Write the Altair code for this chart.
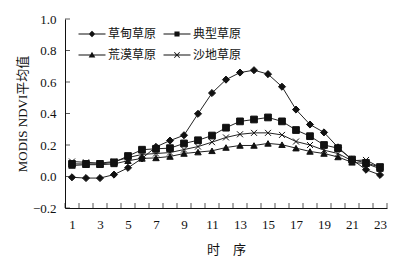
import altair as alt
import pandas as pd

periods = list(range(1, 24))
series = ["草甸草原", "典型草原", "荒漠草原", "沙地草原"]
meadow = [-0.005, -0.01, -0.01, 0.012, 0.055, 0.115, 0.188, 0.228, 0.262, 0.398, 0.53, 0.615,
          0.66, 0.675, 0.65, 0.57, 0.425, 0.33, 0.28, 0.185, 0.108, 0.043, 0.01]
typical = [0.08, 0.08, 0.08, 0.09, 0.13, 0.17, 0.176, 0.18, 0.21, 0.23, 0.26, 0.31,
           0.35, 0.362, 0.375, 0.35, 0.295, 0.256, 0.2, 0.18, 0.108, 0.086, 0.06]
desert = [0.07, 0.075, 0.075, 0.08, 0.10, 0.115, 0.118, 0.127, 0.146, 0.155, 0.163, 0.184,
          0.197, 0.197, 0.21, 0.202, 0.18, 0.159, 0.146, 0.124, 0.09, 0.082, 0.05]
sandy = [0.095, 0.09, 0.085, 0.095, 0.12, 0.14, 0.146, 0.152, 0.171, 0.19, 0.218, 0.248,
         0.268, 0.277, 0.277, 0.264, 0.222, 0.2, 0.167, 0.146, 0.1, 0.105, 0.058]
x_labels = list(range(1, 24, 2))
x_ticks = [i + 0.5 for i in range(0, 24)]
y_ticks = [-0.2, 0.0, 0.2, 0.4, 0.6, 0.8, 1.0]

rows = []
for name, vals in zip(series, [meadow, typical, desert, sandy]):
    for t, v in zip(periods, vals):
        rows.append({"t": t, "v": v, "s": name})
df = pd.DataFrame(rows)

NUM_FONT = "'Liberation Serif', 'Noto Sans CJK SC'"

marker_paths = ["diamond", "square", "triangle-up", "M-1,-1L1,1M-1,1L1,-1"]
marker_sizes = [50, 36, 44, 40]
LINE = "M-4.5,-0.16L4.5,-0.16L4.5,0.16L-4.5,0.16Z"
legend_paths = [
    LINE + "M0,-1.1L1.1,0L0,1.1L-1.1,0Z",
    LINE + "M-0.85,-0.85L0.85,-0.85L0.85,0.85L-0.85,0.85Z",
    LINE + "M0,-1.1L1.1,0.8L-1.1,0.8Z",
    LINE + "M-0.794,-1.006L1.006,0.794L0.794,1.006L-1.006,-0.794Z"
           "M-0.794,1.006L-1.006,0.794L0.794,-1.006L1.006,-0.794Z",
]

xs = alt.Scale(domain=[0.5, 23.5], nice=False, zero=False)
ys = alt.Scale(domain=[-0.2, 1.0], nice=False, zero=False)

x_axis = alt.Axis(
    values=x_labels, tickSize=0, grid=False, title="时　序", labelOverlap=False,
    labelFont=NUM_FONT, labelFontSize=13, labelColor="#111", labelPadding=10,
    titleFont=NUM_FONT, titleFontSize=13, titleFontWeight="normal", titleColor="#111",
    titlePadding=12, domainColor="#111", labelFlush=False)
y_axis = alt.Axis(
    values=y_ticks, format=".1f", tickSize=0, grid=False, title="MODIS NDVI平均值",
    labelOverlap=False,
    labelFont=NUM_FONT, labelFontSize=13, labelColor="#111", labelPadding=9,
    titleFont=NUM_FONT, titleFontSize=13, titleFontWeight="normal", titleColor="#111",
    titlePadding=3, domainColor="#111")

x_enc = alt.X("t:Q", scale=xs, axis=x_axis)
y_enc = alt.Y("v:Q", scale=ys, axis=y_axis)

base = alt.Chart(df)

lines = base.mark_line(color="#222", strokeWidth=1).encode(x=x_enc, y=y_enc, detail="s:N")

points = base.mark_point(filled=True, fill="#111", stroke="#111", strokeWidth=1, opacity=1).encode(
    x=x_enc, y=y_enc,
    shape=alt.Shape("s:N", scale=alt.Scale(domain=series, range=marker_paths), legend=None),
    size=alt.Size("s:N", scale=alt.Scale(domain=series, range=marker_sizes), legend=None),
)

legend_layer = base.mark_point(filled=True, fill="#111", opacity=0).encode(
    x=x_enc, y=y_enc,
    shape=alt.Shape("s:N", scale=alt.Scale(domain=series, range=legend_paths),
                    legend=alt.Legend(title=None, orient="none", legendX=21, legendY=9,
                                      columns=2, direction="horizontal",
                                      columnPadding=6, rowPadding=9,
                                      symbolSize=36, symbolStrokeWidth=0,
                                      symbolFillColor="#111",
                                      symbolOpacity=1, labelOffset=10,
                                      labelFont="'Noto Sans CJK SC'", labelFontSize=12,
                                      labelColor="#111", padding=0)),
)

xt_df = pd.DataFrame({"t": x_ticks})
x_tick_marks = alt.Chart(xt_df).mark_tick(orient="vertical", size=5, thickness=1, color="#111", yOffset=-2.5).encode(
    x=alt.X("t:Q", scale=xs, axis=x_axis), y=alt.datum(-0.2, axis=y_axis, scale=ys))

yt_df = pd.DataFrame({"v": y_ticks})
y_tick_marks = alt.Chart(yt_df).mark_tick(orient="horizontal", size=5, thickness=1, color="#111", xOffset=2.5).encode(
    y=alt.Y("v:Q", scale=ys, axis=y_axis), x=alt.datum(0.5, axis=x_axis, scale=xs))

chart = alt.layer(lines, points, legend_layer, x_tick_marks, y_tick_marks).resolve_scale(
    shape="independent", size="independent"
).properties(
    width=322, height=189,
    autosize=alt.AutoSizeParams(type="none"),
    padding={"left": 57, "top": 11, "right": 14, "bottom": 50},
).configure_view(stroke=None)

chart.save("out.html", embed_options={"renderer": "svg", "actions": False})
